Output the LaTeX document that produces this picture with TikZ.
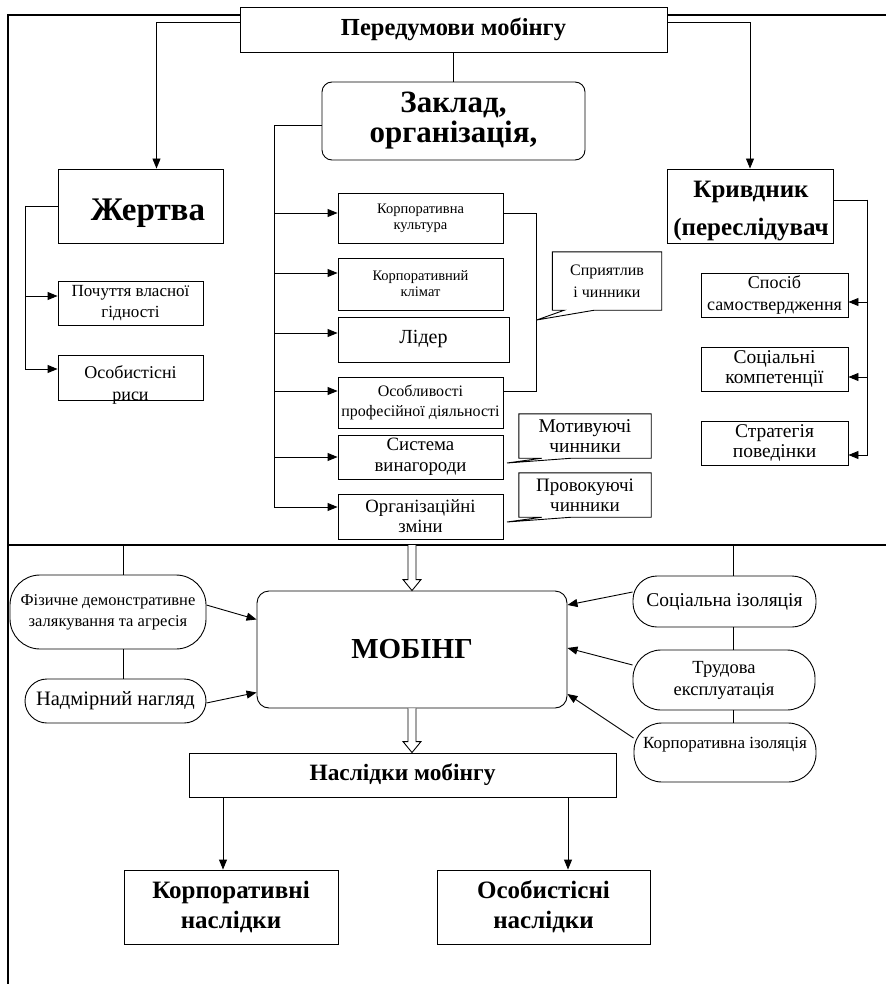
\documentclass[tikz,border=0pt]{standalone}
\usepackage{fontspec}
\setmainfont{Liberation Serif}
\usetikzlibrary{arrows.meta,calc}
\newcommand\fs[2]{\fontsize{#1}{#2}\selectfont}
\begin{document}
\begin{tikzpicture}[x=1pt,y=-1pt,
  box/.style={draw, line width=0.9pt, fill=white, inner sep=1pt, align=center},
  rbox/.style={box, rounded corners=10pt},
  oval/.style={box, rounded corners=22pt},
  txt/.style={inner sep=0pt, align=center},
  arr/.style={line width=0.9pt, -{Triangle[length=10pt,width=8pt]}},
  ln/.style={line width=0.9pt},
  frame/.style={line width=1.4pt}]
\useasboundingbox (0,0) rectangle (886,984);
% frame
\draw[frame] (8,984) -- (8,15) -- (886,15);
\draw[frame] (8,545) -- (886,545);

% top
\node[box, minimum width=427, minimum height=45, font=\bfseries\fs{24.5}{28}] (top) at (453.5,29.5) {Передумови мобінгу};
\node[rbox, minimum width=263, minimum height=78, font=\bfseries\fs{31}{30}] (zak) at (453.5,121) {Заклад,\\організація,};
\draw[ln] (top.south) -- (zak.north);

% victim
\node[box, minimum width=165, minimum height=74] (zh) at (140.5,206) {};
\node[txt, font=\bfseries\fs{33}{36}] (zht) at (148,213) {Жертва};
\node[box, minimum width=145, minimum height=44, font=\fs{17}{21}] (poch) at (130.5,303) {Почуття власної\\гідності};
\node[box, minimum width=145, minimum height=45] (osob) at (130.5,377.5) {};
\node[txt, font=\fs{18}{22}] (osobt) at (130.5,385) {Особистісні\\риси};
\draw[arr] ([yshift=-16pt]top.north west) -| ([xshift=16pt]zh.north);
\coordinate (zb) at (25,206);
\draw[ln] (zh.west) -- (zb);
\draw[arr] (zb) |- ([yshift=7pt]poch.west);
\draw[arr] (zb) |- ([yshift=8.5pt]osob.west);

% offender
\node[box, minimum width=166, minimum height=74] (kr) at (750,206) {};
\node[txt, font=\bfseries\fs{25}{38}] (krt) at (751,211) {Кривдник\\(переслідувач};
\node[box, minimum width=147, minimum height=44, font=\fs{18}{22}] (sp) at (774.5,295) {Спосіб\\самоствердження};
\node[box, minimum width=147, minimum height=44, font=\fs{19.5}{20}] (soc) at (774.5,369) {Соціальні\\компетенції};
\node[box, minimum width=147, minimum height=44, font=\fs{19.5}{20}] (str) at (774.5,443) {Стратегія\\поведінки};
\draw[arr] ([yshift=-16pt]top.north east) -| (kr.north);
\coordinate (kb) at (867,200);
\draw[ln] ([yshift=6pt]kr.east) -- (kb);
\draw[arr] (kb) |- ([yshift=-7pt]sp.east);
\draw[arr] (kb) |- ([yshift=-8pt]soc.east);
\draw[arr] (kb) |- ([yshift=-12pt]str.east);

% organisation list
\node[box, minimum width=165, minimum height=50, font=\fs{14.5}{16}] (kult) at (420.5,218) {Корпоративна\\культура};
\node[box, minimum width=165, minimum height=52, font=\fs{14.5}{16}] (klim) at (420.5,284) {Корпоративний\\клімат};
\node[box, minimum width=171, minimum height=45, font=\fs{20}{22}] (lid) at (423.5,339.5) {Лідер};
\node[box, minimum width=165, minimum height=51, font=\fs{16}{20}] (osl) at (420.5,402.5) {Особливості\\професійної діяльності};
\node[box, minimum width=165, minimum height=44, font=\fs{18.8}{21}] (sys) at (420.5,457) {Система\\винагороди};
\node[box, minimum width=165, minimum height=45, font=\fs{18.7}{20}] (orz) at (420.5,516.5) {Організаційні\\зміни};
\coordinate (zl) at (274,125);
\coordinate (zlb) at (274,507);
\draw[ln] ([yshift=-4pt]zak.west) -- (zl) -- (zlb);
\draw[arr] (zl |- kult.west) ++(0,-5) -- ([yshift=5pt]kult.west);
\draw[arr] (zl |- klim.west) ++(0,-11) -- ([yshift=11pt]klim.west);
\draw[arr] (zl |- lid.west) ++(0,-6.5) -- ([yshift=6.5pt]lid.west);
\draw[arr] (zl |- osl.west) ++(0,-11.5) -- ([yshift=11.5pt]osl.west);
\draw[arr] (zl |- sys.west) -- (sys.west);
\draw[arr] (zlb) -- ([yshift=9.5pt]orz.west);
\coordinate (kb2) at (536,213);
\draw[ln] ([yshift=5pt]kult.east) -- (kb2) |- ([yshift=11.5pt]osl.east);

% callouts
\node[txt, minimum width=109, minimum height=58] (spr) at (607,281) {};
\coordinate (sprt) at (536.7,320);
\draw[ln, fill=white] (spr.south west) -- (spr.north west) -- (spr.north east) -- (spr.south east)
  -- ($(spr.south west)+(42,0)$) -- (sprt) -- ($(spr.south west)+(12,0)$) -- cycle;
\node at (spr) [txt, font=\fs{16}{22}] (sprl) {Сприятлив\\і чинники};

\node[txt, minimum width=132, minimum height=44] (mot) at (585,436) {};
\coordinate (mott) at (507,463);
\draw[ln, fill=white] (mot.south west) -- (mot.north west) -- (mot.north east) -- (mot.south east)
  -- ($(mot.south west)+(53,0)$) -- (mott) -- ($(mot.south west)+(23,0)$) -- cycle;
\node at (mot) [txt, font=\fs{19.5}{20}] (motl) {Мотивуючі\\чинники};

\node[txt, minimum width=132, minimum height=44] (prv) at (585,495) {};
\coordinate (prvt) at (507,522);
\draw[ln, fill=white] (prv.south west) -- (prv.north west) -- (prv.north east) -- (prv.south east)
  -- ($(prv.south west)+(53,0)$) -- (prvt) -- ($(prv.south west)+(23,0)$) -- cycle;
\node at (prv) [txt, font=\fs{19}{20}] (prvl) {Провокуючі\\чинники};

% mobbing
\node[rbox, rounded corners=12pt, minimum width=310, minimum height=117, font=\bfseries\fs{29}{30}] (mob) at (412,649.5) {МОБІНГ};
\coordinate (ha) at (412,545);
\draw[ln, fill=white] ($(ha)+(-4,0)$) -- ($(mob.north)+(-4,-11)$) -- ($(mob.north)+(-9,-11)$) -- (mob.north)
  -- ($(mob.north)+(9,-11)$) -- ($(mob.north)+(4,-11)$) -- ($(ha)+(4,0)$);

\node[box, minimum width=427, minimum height=44, font=\bfseries\fs{23.4}{26}] (nas) at (402.5,775) {Наслідки мобінгу};
\coordinate (hb) at (mob.south |- nas.north);
\draw[ln, fill=white] ($(mob.south)+(-4,0)$) -- ($(hb)+(-4,-11)$) -- ($(hb)+(-9,-11)$) -- (hb)
  -- ($(hb)+(9,-11)$) -- ($(hb)+(4,-11)$) -- ($(mob.south)+(4,0)$);

\node[box, minimum width=214, minimum height=74, font=\bfseries\fs{25}{30}] (kn) at (231,907) {Корпоративні\\наслідки};
\node[box, minimum width=213, minimum height=74, font=\bfseries\fs{25}{30}] (on) at (543.5,907) {Особистісні\\наслідки};
\draw[arr] (nas.south -| kn.north) ++(-8,0) -- ([xshift=-8pt]kn.north);
\draw[arr] (nas.south -| on.north) ++(24.5,0) -- ([xshift=24.5pt]on.north);

% left ovals
\node[oval, rounded corners=30pt, minimum width=196, minimum height=74, font=\fs{16.5}{21}] (fiz) at (108,612) {Фізичне демонстративне\\залякування та агресія};
\node[oval, minimum width=181, minimum height=44, font=\fs{20.5}{22}] (nad) at (115.5,701) {Надмірний нагляд};
\coordinate (fl) at (123,545);
\draw[ln] (fl) -- (fl |- fiz.north);
\draw[ln] (fl |- fiz.south) -- (fl |- nad.north);
\draw[arr] ([yshift=7pt]fiz.east) -- ([yshift=30pt]mob.west);
\draw[arr] ([yshift=-2pt]nad.east) -- ([yshift=-43pt]mob.west);

% right ovals
\node[oval, rounded corners=24pt, minimum width=183, minimum height=51, font=\fs{19.5}{21}] (si) at (724.5,601.5) {Соціальна ізоляція};
\node[oval, rounded corners=28pt, minimum width=182, minimum height=60, font=\fs{18.5}{22}] (tr) at (724,680) {Трудова\\експлуатація};
\node[oval, rounded corners=28pt, minimum width=182, minimum height=59] (ki) at (725,752.5) {};
\node[txt, font=\fs{17}{18}] (kit) at (725,745) {Корпоративна ізоляція};
\coordinate (rl) at (733,545);
\draw[ln] (rl) -- (rl |- si.north);
\draw[ln] (rl |- si.south) -- (rl |- tr.north);
\draw[ln] (rl |- tr.south) -- (rl |- ki.north);
\draw[arr] ([yshift=9.5pt]si.west) -- ([yshift=44.5pt]mob.east);
\draw[arr] ([yshift=15pt]tr.west) -- ([yshift=1.5pt]mob.east);
\draw[arr] ([yshift=14.5pt]ki.west) -- ([yshift=-44.5pt]mob.east);
\end{tikzpicture}
\end{document}
